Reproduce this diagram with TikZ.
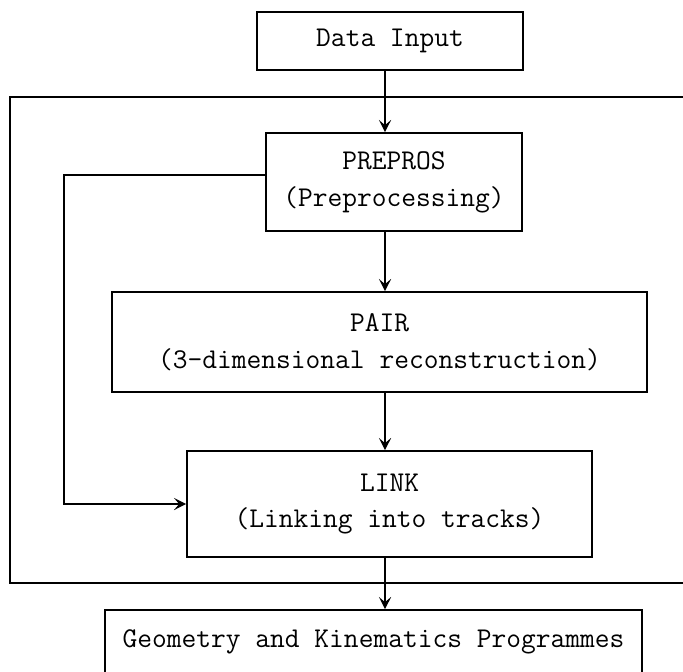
\documentclass[tikz,border=0pt]{standalone}
\usetikzlibrary{arrows.meta}
\begin{document}
\begin{tikzpicture}[
    box/.style={draw, line width=0.9pt, align=center, inner sep=0pt,
      font=\fontsize{16.3}{21}\selectfont\ttfamily},
    flow/.style={->,>={Stealth[length=7pt,width=7pt,inset=3pt]}, line width=0.8pt}]
  \clip (0,0) rectangle (13.66,13.42);
  % frame round the reconstruction chain
  \draw[line width=0.9pt] (0.2,1.76) rectangle (13.9,11.48);
  \node[box, minimum width=5.32cm, minimum height=1.16cm] (datain) at (7.80,12.60) {Data Input};
  \node[box, minimum width=5.12cm, minimum height=1.96cm] (prepros) at (7.88,9.78) {PREPROS\\(Preprocessing)};
  \node[box, minimum width=10.70cm, minimum height=2.00cm] (pair) at (7.59,6.58) {PAIR\\(3-dimensional reconstruction)};
  \node[box, minimum width=8.10cm, minimum height=2.12cm] (link) at (7.79,3.34) {LINK\\(Linking into tracks)};
  \node[box, minimum width=10.74cm, minimum height=1.28cm] (geokin) at (7.47,0.58) {Geometry and Kinematics Programmes};
  \coordinate (spine) at (7.70,0);
  \coordinate (back) at (1.28,0);
  \draw[flow] (datain.south -| spine) -- (prepros.north -| spine);
  \draw[flow] (prepros.south -| spine) -- (pair.north -| spine);
  \draw[flow] (pair.south -| spine) -- (link.north -| spine);
  \draw[flow] (link.south -| spine) -- (geokin.north -| spine);
  % bypass of PAIR
  \draw[flow] ([yshift=0.14cm]prepros.west) -| (back |- link.west) -- (link.west);
\end{tikzpicture}
\end{document}
